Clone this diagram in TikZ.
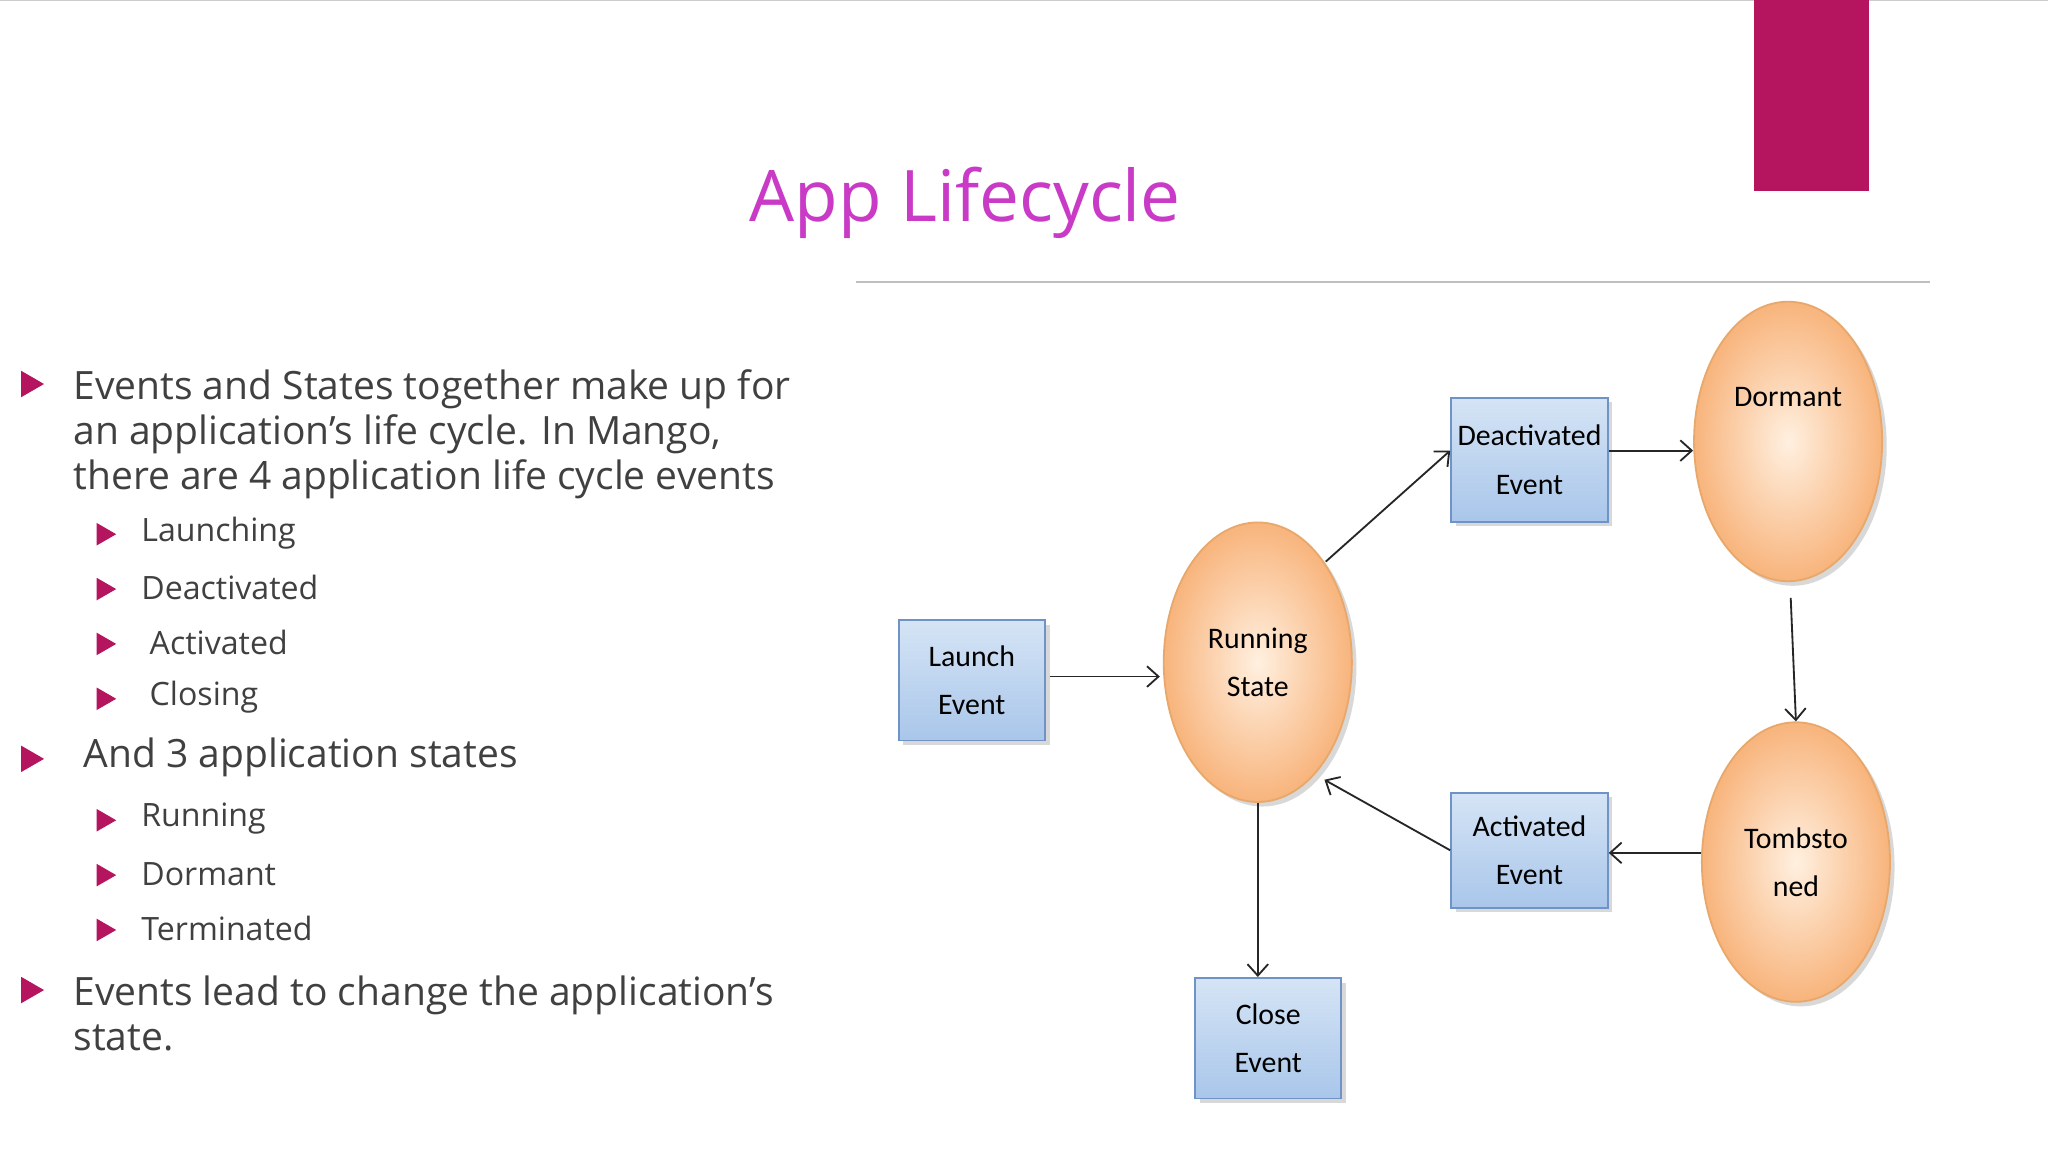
\documentclass[tikz,border=0pt]{standalone}
\usepackage{fontspec}
\setmainfont{Open Sans}
\newfontfamily\boxfont{Carlito}
\usetikzlibrary{shapes.geometric,arrows.meta,shadows}
\definecolor{mag}{HTML}{B5145E}
\definecolor{ttl}{HTML}{C93BC7}
\definecolor{txt}{HTML}{404040}
\definecolor{bxt}{HTML}{D5E4F5}
\definecolor{bxb}{HTML}{A9C6EA}
\definecolor{bxd}{HTML}{6F93C6}
\definecolor{elo}{HTML}{F8B47C}
\definecolor{eli}{HTML}{FFF0E0}
\definecolor{eld}{HTML}{E8A86C}
\begin{document}
\begin{tikzpicture}[x=0.02cm,y=-0.02cm,
  ev/.style={draw=bxd,line width=0.8pt,top color=bxt,bottom color=bxb,inner sep=1pt,
    minimum width=112*0.02cm,minimum height=92*0.02cm,align=center,font=\boxfont\fontsize{13}{21}\selectfont,
    drop shadow={shadow xshift=2pt,shadow yshift=-2pt,opacity=0.3}},
  st/.style={ellipse,draw=eld,line width=0.8pt,inner color=eli,outer color=elo,
    minimum width=144*0.02cm,minimum height=214*0.02cm,align=center,font=\boxfont\fontsize{13}{21}\selectfont,
    drop shadow={shadow xshift=2pt,shadow yshift=-2pt,opacity=0.3}},
  ar/.style={-{Straight Barb[length=5pt,width=9pt]},line width=0.8pt,black!85},
  b1/.style={fill=mag,isosceles triangle,isosceles triangle apex angle=60,inner sep=0pt,minimum height=10pt},
  b2/.style={fill=mag,isosceles triangle,isosceles triangle apex angle=60,inner sep=0pt,minimum height=8.5pt},
  t1/.style={anchor=west,text=txt,font=\fontsize{17}{19.5}\selectfont,align=left},
  t2/.style={anchor=west,text=txt,font=\fontsize{14}{17}\selectfont}]
\useasboundingbox (0,0) rectangle (1568,882);
\fill[white] (0,0) rectangle (1568,882);
\draw[gray!40,line width=0.6pt] (0,0.5) -- (1568,0.5);
\fill[mag] (1343,0) rectangle (1431,146);
\node[text=ttl,font=\fontsize{31}{36}\selectfont] (title) at (739,155) {App Lifecycle};
\draw[gray!50,line width=1pt] (655,216) -- (1478,216);
% bullets
\node[b1] (m1) at (22,294) {};
\node[t1,anchor=north west] (l1) at (50,277) {Events and States together make up for\\an application’s life cycle. In Mango,\\there are 4 application life cycle events};
\node[b2] (s1) at (79,409) {}; \node[t2] (u1) at (102,408) {Launching};
\node[b2] (s2) at (79,451) {}; \node[t2] (u2) at (102,450) {Deactivated};
\node[b2] (s3) at (79,493) {}; \node[t2] (u3) at (102,492) {\ Activated};
\node[b2] (s4) at (79,535) {}; \node[t2] (u4) at (102,534) {\ Closing};
\node[b1] (m2) at (22,581) {}; \node[t1] (l2) at (50,580) {\ And 3 application states};
\node[b2] (s5) at (79,628) {}; \node[t2] (u5) at (102,627) {Running};
\node[b2] (s6) at (79,670) {}; \node[t2] (u6) at (102,669) {Dormant};
\node[b2] (s7) at (79,712) {}; \node[t2] (u7) at (102,711) {Terminated};
\node[b1] (m3) at (22,758) {};
\node[t1,anchor=north west] (l3) at (50,741) {Events lead to change the application’s\\state.};
% diagram
\node[ev] (launch) at (744,521) {Launch\\Event};
\node[st] (run) at (963,507) {Running\\State};
\node[ev,minimum height=95*0.02cm,minimum width=120*0.02cm] (deact) at (1171,352) {Deactivated\\Event};
\node[st] (dorm) at (1369,338) {Dormant\\[18pt]};
\node[st] (tomb) at (1375,660) {Tombsto\\ned};
\node[ev,minimum height=88*0.02cm,minimum width=120*0.02cm] (act) at (1171,651) {Activated\\Event};
\node[ev] (close) at (971,795) {Close\\Event};
\draw[ar] (launch.east) ++(3,-3) coordinate (a1) -- (888,518) coordinate (a2);
\draw[ar] (run) ++(52,-77) -- (deact.west|-345,345);
\draw[ar] (deact.east|-345,345) -- (dorm.west|-345,345);
\draw[ar] (dorm.south) ++(2,12) -- (tomb.north);
\draw[ar] (tomb.west|-653,653) -- (act.east|-653,653);
\draw[ar] (act.west) -- (1014,597);
\draw[ar] (run.south) -- (run.south|-748,748);
\end{tikzpicture}
\end{document}
